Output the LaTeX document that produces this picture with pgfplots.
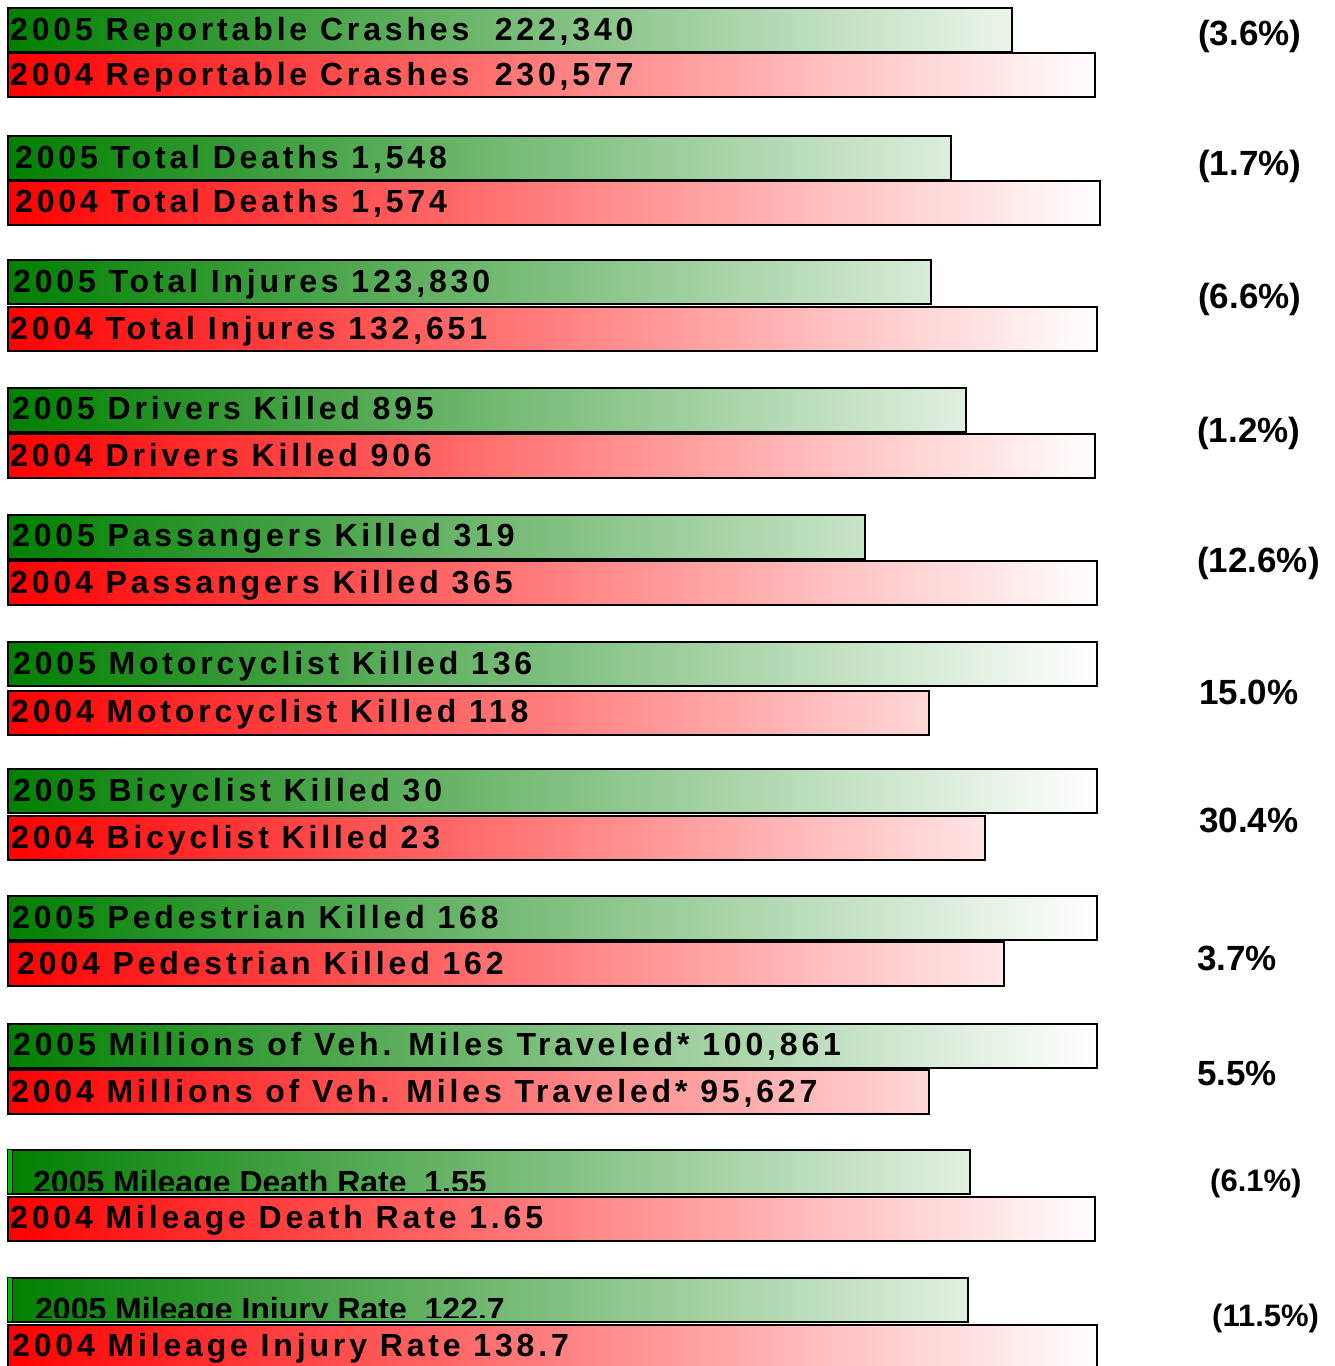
\documentclass[border=0pt]{standalone}
\usepackage{pgfplots}
\pgfplotsset{compat=1.18}
\usepackage{fontspec}
\setmainfont{Liberation Sans}
\newfontfamily\spaced[LetterSpace=12]{Liberation Sans}
\definecolor{gstart}{RGB}{0,128,0}
\definecolor{rstart}{RGB}{255,0,0}
\begin{document}
\begin{tikzpicture}[
  lbl/.style={anchor=base west, inner sep=0pt, font=\spaced\bfseries\fontsize{32}{36}\selectfont},
  plain/.style={anchor=base west, inner sep=0pt, font=\bfseries\fontsize{32}{36}\selectfont},
  pct/.style={anchor=base west, inner sep=0pt, font=\bfseries\fontsize{35}{40}\selectfont},
  pcts/.style={anchor=base west, inner sep=0pt, font=\bfseries\fontsize{31}{36}\selectfont},
]
\begin{axis}[
  scale only axis, width=1334pt, height=1366pt,
  xmin=-8, xmax=1326, ymin=0, ymax=1366, y dir=reverse,
  hide axis,
]
% 2005 bars (green): length in px, centre y in px
\addplot[xbar, bar shift=0pt, bar width=44, draw=black, line width=2pt,
  left color=gstart, right color=white] coordinates {
  (1004,30) (943,158) (923,282) (958,409.5) (857,536.5) (1089,664)
  (1089,791) (1089,918) (1089,1045.5) (962,1171.5) (960,1299.5)};
% 2004 bars (red)
\addplot[xbar, bar shift=0pt, bar width=44, draw=black, line width=2pt,
  left color=rstart, right color=white] coordinates {
  (1087,75) (1092,202.5) (1089,329) (1087,456) (1089,583) (921,712.5)
  (977,838) (996,964) (921,1092) (1087,1218.5) (1089,1346.5)};

\node[lbl] at (axis cs:2,40) {2005 Reportable Crashes\ \ 222,340};
\node[lbl] at (axis cs:2,85) {2004 Reportable Crashes\ \ 230,577};
\node[lbl] at (axis cs:7,168) {2005 Total Deaths 1,548};
\node[lbl] at (axis cs:7,212.5) {2004 Total Deaths 1,574};
\node[lbl] at (axis cs:5,292) {2005 Total Injures 123,830};
\node[lbl] at (axis cs:2,339) {2004 Total Injures 132,651};
\node[lbl] at (axis cs:4,419.5) {2005 Drivers Killed 895};
\node[lbl] at (axis cs:2,466) {2004 Drivers Killed 906};
\node[lbl] at (axis cs:4,546.5) {2005 Passangers Killed 319};
\node[lbl] at (axis cs:2,593) {2004 Passangers Killed 365};
\node[lbl] at (axis cs:5,674) {2005 Motorcyclist Killed 136};
\node[lbl] at (axis cs:3,722.5) {2004 Motorcyclist Killed 118};
\node[lbl] at (axis cs:5,801) {2005 Bicyclist Killed 30};
\node[lbl] at (axis cs:3,848) {2004 Bicyclist Killed 23};
\node[lbl] at (axis cs:4,928) {2005 Pedestrian Killed 168};
\node[lbl] at (axis cs:9,974) {2004 Pedestrian Killed 162};
\node[lbl] at (axis cs:5,1055.5) {2005 Millions of Veh. Miles Traveled* 100,861};
\node[lbl] at (axis cs:3,1102) {2004 Millions of Veh. Miles Traveled* 95,627};
\node[lbl] at (axis cs:2,1228.5) {2004 Mileage Death Rate 1.65};
\node[lbl] at (axis cs:4,1356.5) {2004 Mileage Injury Rate 138.7};

\fill[green!75!black] (axis cs:0,1150) rectangle (axis cs:4,1193);
\draw[line width=1.5pt] (axis cs:4.5,1150) -- (axis cs:4.5,1193);
\fill[green!75!black] (axis cs:0,1278) rectangle (axis cs:4,1321);
\draw[line width=1.5pt] (axis cs:4.5,1278) -- (axis cs:4.5,1321);
\begin{scope}
\clip (axis cs:6,1140) rectangle (axis cs:900,1190);
\node[plain] at (axis cs:25,1193) {2005 Mileage Death Rate\ \ 1.55};
\end{scope}
\begin{scope}
\clip (axis cs:6,1268) rectangle (axis cs:900,1317);
\node[plain] at (axis cs:27,1320) {2005 Mileage Injury Rate\ \ 122.7};
\end{scope}

\node[pct] at (axis cs:1190,45.5) {(3.6\%)};
\node[pct] at (axis cs:1190,175.5) {(1.7\%)};
\node[pct] at (axis cs:1190,308.5) {(6.6\%)};
\node[pct] at (axis cs:1189,442.5) {(1.2\%)};
\node[pct] at (axis cs:1189,572.5) {(12.6\%)};
\node[pct] at (axis cs:1191,704.5) {15.0\%};
\node[pct] at (axis cs:1191,832.5) {30.4\%};
\node[pct] at (axis cs:1189,970.5) {3.7\%};
\node[pct] at (axis cs:1189,1085.5) {5.5\%};
\node[pcts] at (axis cs:1202,1191) {(6.1\%)};
\node[pcts] at (axis cs:1204,1326) {(11.5\%)};
\path (rel axis cs:0,0) rectangle (rel axis cs:1,1);
\end{axis}
\end{tikzpicture}
\end{document}
